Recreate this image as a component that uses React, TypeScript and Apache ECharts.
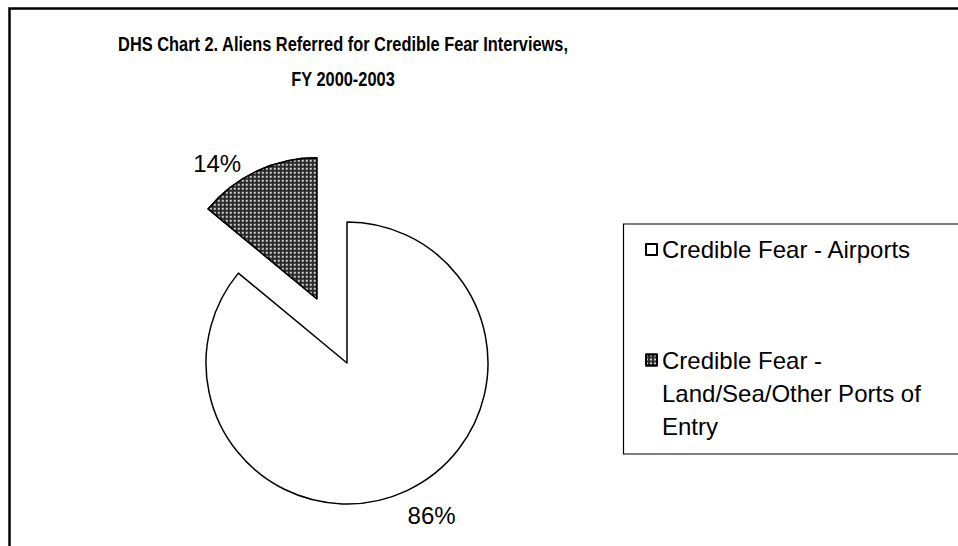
import React, { useEffect, useRef } from "react";
import * as echarts from "echarts";

const titleLines = [
  "DHS Chart 2. Aliens Referred for Credible Fear Interviews,",
  "FY 2000-2003",
];
const categories = [
  "Credible Fear - Airports",
  "Credible Fear - Land/Sea/Other Ports of Entry",
];
const legendLabels = [
  "Credible Fear - Airports",
  "\n\nCredible Fear -\nLand/Sea/Other Ports of\nEntry",
];
const shares = [86, 14];
const labelNudges = [
  [-13, 7],
  [-2, 10],
];

const FONT = "'Liberation Sans', Arial, Helvetica, sans-serif";

export default function App() {
  const ref = useRef<HTMLDivElement>(null);
  useEffect(() => {
    if (!ref.current) return;
    const chart = echarts.init(ref.current, undefined, { renderer: "svg" });
    const patternStyle = {
      color: "#2a2a2a",
      borderColor: "#000",
      borderWidth: 1.5,
      decal: {
        symbol: "rect",
        symbolSize: 1,
        color: "#cfcfcf",
        dashArrayX: [2, 2],
        dashArrayY: [2, 2],
        rotation: 0,
      },
    };
    const plainStyle = { color: "#fff", borderColor: "#000", borderWidth: 1.5 };
    const legendText = {
      fontFamily: FONT,
      fontSize: 24,
      color: "#000",
      lineHeight: 33,
    };
    chart.setOption({
      animation: false,
      backgroundColor: "#fff",
      textStyle: { fontFamily: FONT },
      graphic: [
        {
          type: "rect",
          shape: { x: 9.5, y: 8.5, width: 1000, height: 600 },
          style: { fill: "none", stroke: "#000", lineWidth: 2.5 },
          z: 0,
        },
        {
          type: "rect",
          shape: { x: 623.5, y: 224, width: 400, height: 230 },
          style: { fill: "#fff", stroke: "#000", lineWidth: 1.2 },
          z: 0,
        },
        {
          type: "text",
          x: 343,
          y: 44,
          scaleX: 0.78,
          style: {
            text: titleLines[0],
            font: `bold 21px ${FONT}`,
            fill: "#000",
            align: "center",
            verticalAlign: "middle",
          },
        },
        {
          type: "text",
          x: 343,
          y: 79,
          scaleX: 0.78,
          style: {
            text: titleLines[1],
            font: `bold 21px ${FONT}`,
            fill: "#000",
            align: "center",
            verticalAlign: "middle",
          },
        },
      ],
      legend: [
        {
          data: [categories[0]],
          orient: "vertical",
          left: 645,
          top: 233,
          padding: 0,
          icon: "rect",
          itemWidth: 11,
          itemHeight: 11,
          itemGap: 0,
          selectedMode: false,
          formatter: () => legendLabels[0],
          textStyle: legendText,
        },
        {
          data: [categories[1]],
          orient: "vertical",
          left: 645,
          top: 277.5,
          padding: 0,
          icon: "rect",
          itemWidth: 11,
          itemHeight: 11,
          itemGap: 0,
          selectedMode: false,
          formatter: () => legendLabels[1],
          textStyle: legendText,
        },
      ],
      series: [
        {
          type: "pie",
          center: [347, 363],
          radius: 141,
          startAngle: 90,
          clockwise: true,
          selectedMode: "single",
          selectedOffset: 71,
          silent: true,
          percentPrecision: 0,
          label: {
            show: true,
            position: "outside",
            formatter: "{d}%",
            fontFamily: FONT,
            fontSize: 24,
            color: "#000",
          },
          labelLine: { show: false, length: 20, length2: 0 },
          labelLayout: (p: any) => ({
            dx: labelNudges[p.dataIndex][0],
            dy: labelNudges[p.dataIndex][1],
          }),
          emphasis: { disabled: true },
          data: categories.map((name, i) => ({
            name,
            value: shares[i],
            selected: i === 1,
            itemStyle: i === 1 ? patternStyle : plainStyle,
          })),
        },
      ],
    });
    return () => chart.dispose();
  }, []);
  return (
    <div
      ref={ref}
      style={{ position: "fixed", left: 0, top: 0, width: 958, height: 546 }}
    />
  );
}
